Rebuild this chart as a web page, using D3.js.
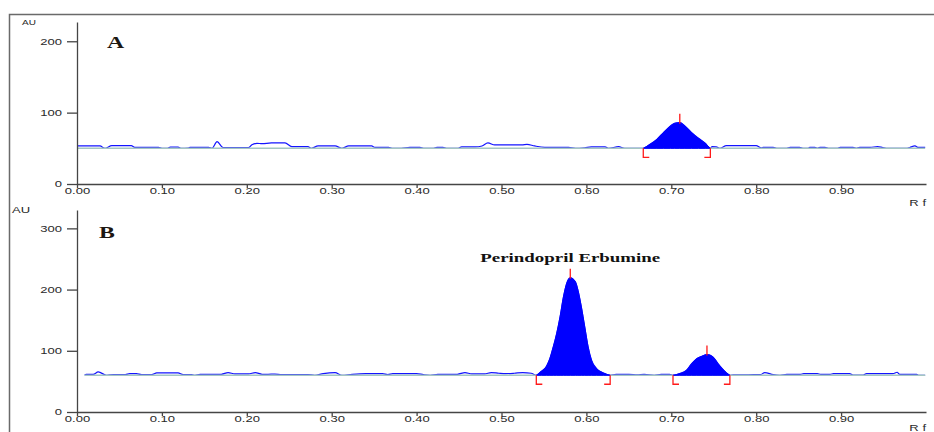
<!DOCTYPE html>
<html>
<head>
<meta charset="utf-8">
<script src="https://cdn.jsdelivr.net/npm/d3@7"></script>
<style>
  body { margin: 0; background: #fff; }
  svg { display: block; }
</style>
</head>
<body>
<svg width="934" height="432"></svg>
<script>
// Rf tick labels (shared by both tracks)
var rfTicks = [0, 0.1, 0.2, 0.3, 0.4, 0.5, 0.6, 0.7, 0.8, 0.9];

// ---- track A ----
var auTicksA = [0, 100, 200];
var baseA = 50;
// [Rf, AU]
var noiseA1 = [[0.000,53.3],[0.027,53.3],[0.033,50],[0.041,53.8],[0.064,53.8],[0.068,51.4],[0.096,51.4],[0.100,50],[0.106,50],[0.110,51.6],[0.119,51.6],[0.123,50],[0.131,50.3],[0.133,51.4],[0.155,51.4],[0.159,50],[0.165,59.4],[0.172,51],[0.202,51],[0.206,55],[0.212,57],[0.218,56.5],[0.229,57.5],[0.245,57.5],[0.253,52.3],[0.272,52.3],[0.276,50],[0.284,53.3],[0.304,53.3],[0.312,50],[0.320,53.3],[0.347,53.3],[0.351,51.4],[0.367,51.4],[0.371,50],[0.382,50],[0.392,51.4],[0.404,51.4],[0.408,50],[0.420,50],[0.424,51.2],[0.431,51.2],[0.435,50],[0.449,50],[0.453,52],[0.469,52],[0.477,53.3],[0.484,57.5],[0.492,54.7],[0.524,54.7],[0.530,55.6],[0.539,53.3],[0.551,51.4],[0.579,51.4],[0.587,50],[0.598,50.8],[0.606,52],[0.622,52],[0.626,50],[0.638,52.3],[0.645,50],[0.657,50]];
var peakA = [[0.667,50],[0.675,55.6],[0.683,62.6],[0.691,72.4],[0.699,81.3],[0.704,85.1],[0.710,85.9],[0.716,81.3],[0.724,71.9],[0.732,64],[0.740,57],[0.746,50]];
var noiseA2 = [[0.748,52.3],[0.753,52],[0.757,50],[0.765,53.8],[0.800,53.8],[0.806,50.5],[0.808,51.2],[0.820,51.2],[0.824,50],[0.836,50],[0.840,51.2],[0.851,51.2],[0.855,50],[0.861,50],[0.863,51.2],[0.869,51.2],[0.872,50],[0.875,51.2],[0.881,51.2],[0.885,50],[0.896,50],[0.899,51.2],[0.914,51.2],[0.918,50],[0.922,51.2],[0.934,51.2],[0.943,52.5],[0.949,51],[0.953,50],[0.978,50],[0.981,51.2],[0.987,53.3],[0.991,51.2],[0.999,51.2]];

// ---- track B ----
var auTicksB = [0, 100, 200, 300];
var baseB = 60;
var noiseB1 = [[0.009,60],[0.011,61.6],[0.019,61.6],[0.025,65.4],[0.035,60],[0.043,61],[0.057,61],[0.062,62.7],[0.070,62.7],[0.076,61],[0.088,61],[0.094,63.8],[0.119,63.8],[0.125,61],[0.135,61],[0.139,60],[0.145,61.6],[0.170,61.6],[0.178,64.4],[0.186,62.2],[0.202,62.2],[0.210,64.4],[0.218,61.6],[0.225,61.6],[0.233,62],[0.241,61],[0.272,61],[0.280,60],[0.290,62.7],[0.304,64.3],[0.312,60],[0.324,61.6],[0.340,62.7],[0.360,62.7],[0.366,61],[0.372,62.7],[0.400,62.7],[0.408,61],[0.416,60],[0.425,61.6],[0.448,61.6],[0.457,64.4],[0.465,62.2],[0.480,62.2],[0.488,64.4],[0.497,63.3],[0.505,62.7],[0.515,63.3],[0.525,64.4],[0.535,63.3]];
var peakB1 = [[0.541,60],[0.547,66.5],[0.553,74.7],[0.557,87.3],[0.561,106.4],[0.565,128.1],[0.569,155.4],[0.573,188],[0.577,211],[0.581,219.2],[0.587,212.6],[0.590,199],[0.594,171.8],[0.598,139.1],[0.602,106.4],[0.606,84.5],[0.612,70.9],[0.620,63.8],[0.628,60]];
var noiseB2 = [[0.635,61.6],[0.650,61.6],[0.660,60.5],[0.668,61.6],[0.680,60],[0.688,61.6],[0.698,61.6]];
var peakB2 = [[0.702,60],[0.710,62.7],[0.718,68.2],[0.724,79],[0.730,87.2],[0.736,91],[0.742,93.8],[0.749,90],[0.755,79],[0.761,69.3],[0.769,60]];
var noiseB3 = [[0.773,60.5],[0.785,60.5],[0.797,61],[0.805,61],[0.810,64.4],[0.820,61],[0.828,60],[0.836,61.6],[0.852,61.6],[0.856,62.7],[0.872,62.7],[0.876,61.6],[0.887,61.6],[0.891,62.7],[0.910,62.7],[0.914,60.3],[0.926,60.3],[0.930,62.7],[0.961,62.7],[0.966,64.9],[0.969,61.6],[0.989,61.6],[0.991,60],[0.999,60]];

var peakName = "Perindopril Erbumine";

var svg = d3.select("svg");
var x = d3.scaleLinear().domain([0, 1]).range([77, 926]);
var SX = 1.45; // the original picture is stretched sideways

// outer frame
svg.append("path").attr("d", "M9.5,432V14.5H934")
  .attr("fill", "none").attr("stroke", "#6a6a6a").attr("stroke-width", 1.5);

function stext(g, px, py, str, size, sx, anchor, family, weight) {
  return g.append("text")
    .attr("transform", "translate(" + px + "," + py + ") scale(" + sx + ",1)")
    .attr("text-anchor", anchor || "start")
    .attr("font-family", family || "'Liberation Sans', Arial, sans-serif")
    .attr("font-weight", weight || "normal")
    .attr("font-size", size)
    .attr("fill", "#2a2a2a")
    .text(str);
}

function panel(p) {
  var g = svg.append("g");
  var y = d3.scaleLinear().domain([0, p.yMax]).range([p.bottom, p.top]);

  // trace line
  var trace = p.noise[0].concat(p.peaks[0]);
  for (var i = 1; i < p.noise.length; i++) {
    trace = trace.concat(p.noise[i]);
    if (p.peaks[i]) trace = trace.concat(p.peaks[i]);
  }
  var line = d3.line().x(function(d) { return x(d[0]); }).y(function(d) { return y(d[1]); })
    .curve(d3.curveMonotoneX);
  g.append("path").datum(trace).attr("d", line)
    .attr("fill", "none").attr("stroke", "#1414ff").attr("stroke-width", 1.2);

  // baseline
  g.append("line")
    .attr("x1", x(trace[0][0])).attr("x2", x(trace[trace.length - 1][0]))
    .attr("y1", y(p.base)).attr("y2", y(p.base))
    .attr("stroke", "#a3c6c2").attr("stroke-width", 1.4);

  // filled peaks with markers
  var area = d3.area().x(function(d) { return x(d[0]); })
    .y0(y(p.base)).y1(function(d) { return y(d[1]); })
    .curve(d3.curveMonotoneX);
  p.peaks.forEach(function(pk) {
    g.append("path").datum(pk).attr("d", area)
      .attr("fill", "#0000ff").attr("stroke", "#0000ff").attr("stroke-width", 1);
    var top = pk.reduce(function(a, b) { return b[1] > a[1] ? b : a; });
    var yb = y(p.base);
    var xs = x(pk[0][0]), xe = x(pk[pk.length - 1][0]);
    g.append("path")
      .attr("d", "M" + x(top[0]) + "," + (y(top[1]) + 1) + "V" + (y(top[1]) - 9)
        + "M" + xs + "," + yb + "V" + (yb + 9) + "H" + (xs + 6)
        + "M" + xe + "," + yb + "V" + (yb + 9) + "H" + (xe - 6))
      .attr("fill", "none").attr("stroke", "#ff1a1a").attr("stroke-width", 1.3);
    pk.top = top;
  });

  // axes
  var ax = g.append("g").attr("transform", "translate(0," + p.bottom + ")")
    .call(d3.axisBottom(x).tickValues(rfTicks).tickFormat(d3.format(".2f"))
      .tickSize(4).tickPadding(0).tickSizeOuter(0));
  ax.selectAll("text").attr("transform", "scale(" + SX + ",1)")
    .attr("font-family", "'Liberation Sans', Arial, sans-serif").attr("font-size", 9).attr("fill", "#2a2a2a");
  var ay = g.append("g").attr("transform", "translate(" + x(0) + ",0)")
    .call(d3.axisLeft(y).tickValues(p.ticks).tickSize(10).tickPadding(5).tickSizeOuter(0));
  ay.selectAll("text").attr("x", -15 / SX).attr("transform", "scale(" + SX + ",1)")
    .attr("font-family", "'Liberation Sans', Arial, sans-serif").attr("font-size", 9).attr("fill", "#2a2a2a");
  [ax, ay].forEach(function(a) {
    a.selectAll("path, line").attr("stroke", "#454545").attr("stroke-width", 1.3);
  });

  stext(g, p.auX, p.top + 3, "AU", p.auSize, p.auSx);
  stext(g, 926, p.bottom + p.rfDy, "R f", 9, SX, "end");
  stext(g, p.letterX, p.letterY, p.letter, 17, 1.4, "start", "'Liberation Serif', 'Times New Roman', serif", "bold")
    .attr("fill", "#1c1712");
  return { g: g, y: y };
}

panel({ top: 22, bottom: 184, yMax: 227, ticks: auTicksA, base: baseA,
  noise: [noiseA1, noiseA2], peaks: [peakA], rfDy: 22,
  letter: "A", letterX: 107, letterY: 48, auX: 22, auSize: 8, auSx: 1.25 });

var pb = panel({ top: 210, bottom: 412, yMax: 330, ticks: auTicksB, base: baseB,
  noise: [noiseB1, noiseB2, noiseB3], peaks: [peakB1, peakB2], rfDy: 19,
  letter: "B", letterX: 99, letterY: 238, auX: 12, auSize: 9, auSx: SX });

stext(pb.g, x(peakB1.top[0]), pb.y(peakB1.top[1]) - 16, peakName, 13.5, 1.4, "middle",
  "'Liberation Serif', 'Times New Roman', serif", "bold").attr("fill", "#111");
</script>
</body>
</html>
